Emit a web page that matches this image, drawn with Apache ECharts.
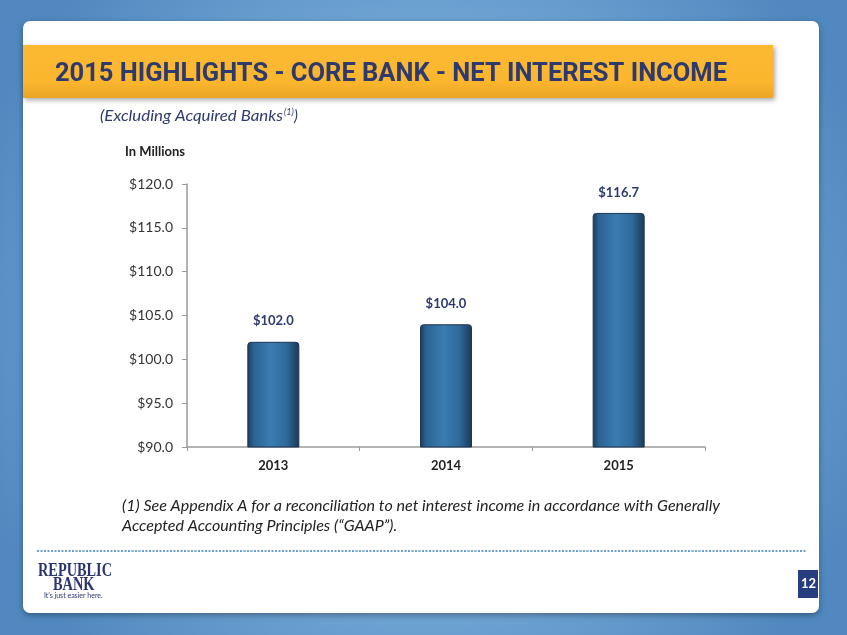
<!DOCTYPE html>
<html>
<head>
<meta charset="utf-8">
<script src="https://cdn.jsdelivr.net/npm/echarts@6/dist/echarts.min.js"></script>
<style>
html,body{margin:0;padding:0;background:#fff;}
#main{width:847px;height:635px;}
</style>
</head>
<body>
<div id="main"></div>
<script>
const categories = ['2013', '2014', '2015'];
const values = [102.0, 104.0, 116.7];
const valueLabels = ['$102.0', '$104.0', '$116.7'];
const yMin = 90, yMax = 120, yStep = 5;

const titleText = '2015 HIGHLIGHTS - CORE BANK - NET INTEREST INCOME';
const subtitleText = '(Excluding Acquired Banks';
const unitText = 'In Millions';
const footLine1 = '(1) See Appendix A for a reconciliation to net interest income in accordance with Generally';
const footLine2 = 'Accepted Accounting Principles (\u201cGAAP\u201d).';
const pageNum = '12';

const chart = echarts.init(document.getElementById('main'), null, {renderer: 'canvas'});
const navy = '#2e3a6e';
const bodyFont = 'Lato, "Open Sans", sans-serif';

const mctx = document.createElement('canvas').getContext('2d');
function fitScale(text, font, target) {
  mctx.font = font;
  return target / mctx.measureText(text).width;
}
const titleFont = 'bold 26px Roboto, sans-serif';
const titleScale = fitScale(titleText, titleFont, 672);
const subFont = 'italic 15px ' + bodyFont;
const subScale = fitScale(subtitleText, subFont, 183);
const footFont = 'italic 15.5px ' + bodyFont;
const footScale = fitScale(footLine1, footFont, 598);
const logoFont = 'bold 18px "Liberation Serif", serif';
const logoScale = fitScale('REPUBLIC', logoFont, 74);

const barColor = {
  type: 'linear', x: 0, y: 0, x2: 1, y2: 0,
  colorStops: [
    {offset: 0, color: '#1b3b5c'},
    {offset: 0.12, color: '#2b6391'},
    {offset: 0.45, color: '#3a7cb2'},
    {offset: 0.75, color: '#2f6a9c'},
    {offset: 1, color: '#1a3957'}
  ]
};

chart.setOption({
  animation: false,
  backgroundColor: '#fff',
  graphic: [
    {type: 'rect', z: -10, silent: true, shape: {x: 0, y: 0, width: 847, height: 635},
      style: {fill: {type: 'radial', x: 0.5, y: 0.5, r: 0.75,
        colorStops: [{offset: 0, color: '#86b8e0'}, {offset: 0.6, color: '#6fa5d4'}, {offset: 1, color: '#5088bf'}]}}},
    {type: 'rect', z: -9, silent: true, shape: {x: 23, y: 21, width: 796, height: 592, r: 7},
      style: {fill: '#ffffff', shadowBlur: 6, shadowColor: 'rgba(0,0,0,0.35)', shadowOffsetY: 2}},
    {type: 'rect', z: -8, silent: true, shape: {x: 23, y: 45, width: 750, height: 53},
      style: {fill: {type: 'linear', x: 0, y: 0, x2: 0, y2: 1,
        colorStops: [{offset: 0, color: '#fcb933'}, {offset: 0.7, color: '#fbb62e'}, {offset: 1, color: '#e9a526'}]},
        shadowBlur: 5, shadowColor: 'rgba(0,0,0,0.35)', shadowOffsetX: 2, shadowOffsetY: 2}},
    {type: 'text', z: 10, silent: true, x: 55, y: 61, scaleX: titleScale,
      style: {text: titleText, fill: navy, font: titleFont}},
    {type: 'text', z: 10, silent: true, x: 100, y: 109, scaleX: subScale,
      style: {text: subtitleText, fill: navy, font: subFont}},
    {type: 'text', z: 10, silent: true, x: 284, y: 108,
      style: {text: '(1)', fill: navy, font: 'italic 9px ' + bodyFont}},
    {type: 'text', z: 10, silent: true, x: 294, y: 109,
      style: {text: ')', fill: navy, font: 'italic 15px ' + bodyFont}},
    {type: 'text', z: 10, silent: true, x: 125, y: 145,
      style: {text: unitText, fill: '#222', font: 'bold 13px ' + bodyFont}},
    {type: 'text', z: 10, silent: true, x: 122, y: 498, scaleX: footScale,
      style: {text: footLine1, fill: '#222', font: footFont}},
    {type: 'text', z: 10, silent: true, x: 122, y: 518, scaleX: footScale,
      style: {text: footLine2, fill: '#222', font: footFont}},
    {type: 'line', z: 10, silent: true, shape: {x1: 37, y1: 551, x2: 806, y2: 551},
      style: {stroke: '#6a9fd0', lineWidth: 2, lineDash: [2, 1.5]}},
    {type: 'text', z: 10, silent: true, x: 38, y: 562, scaleX: logoScale,
      style: {text: 'REPUBLIC', fill: '#2a3570', font: logoFont}},
    {type: 'text', z: 10, silent: true, x: 53, y: 576, scaleX: logoScale,
      style: {text: 'BANK', fill: '#2a3570', font: logoFont}},
    {type: 'text', z: 10, silent: true, x: 44, y: 592,
      style: {text: 'It\u2019s just easier here.', fill: '#2a3570', font: '7px ' + bodyFont}},
    {type: 'rect', z: 10, silent: true, shape: {x: 798, y: 570, width: 20, height: 28},
      style: {fill: '#283d80'}},
    {type: 'text', z: 11, silent: true, x: 801, y: 577,
      style: {text: pageNum, fill: '#fff', font: 'bold 13px ' + bodyFont}}
  ],
  grid: {left: 187, right: 142, top: 184, bottom: 188, containLabel: false},
  xAxis: {
    type: 'category', data: categories,
    axisLine: {lineStyle: {color: '#9a9a9a', width: 1.5}},
    axisTick: {show: true, alignWithLabel: false, length: 4, lineStyle: {color: '#9a9a9a'}},
    axisLabel: {color: '#222', fontFamily: bodyFont, fontWeight: 'bold', fontSize: 13, margin: 12}
  },
  yAxis: {
    type: 'value', min: yMin, max: yMax, interval: yStep,
    axisLine: {show: true, lineStyle: {color: '#9a9a9a', width: 1.5}},
    axisTick: {show: true, length: 5, inside: false, lineStyle: {color: '#9a9a9a'}},
    splitLine: {show: false},
    axisLabel: {color: '#333', fontFamily: bodyFont, fontSize: 14, margin: 14,
      formatter: v => '$' + v.toFixed(1)}
  },
  series: [{
    type: 'bar', data: values, barWidth: 52,
    itemStyle: {color: barColor, borderColor: '#1c3550', borderWidth: 1, borderRadius: [3, 3, 0, 0]},
    label: {show: true, position: 'top', distance: 14, color: navy, fontFamily: bodyFont,
      fontWeight: 'bold', fontSize: 13, formatter: p => valueLabels[p.dataIndex]}
  }]
});
</script>
</body>
</html>
